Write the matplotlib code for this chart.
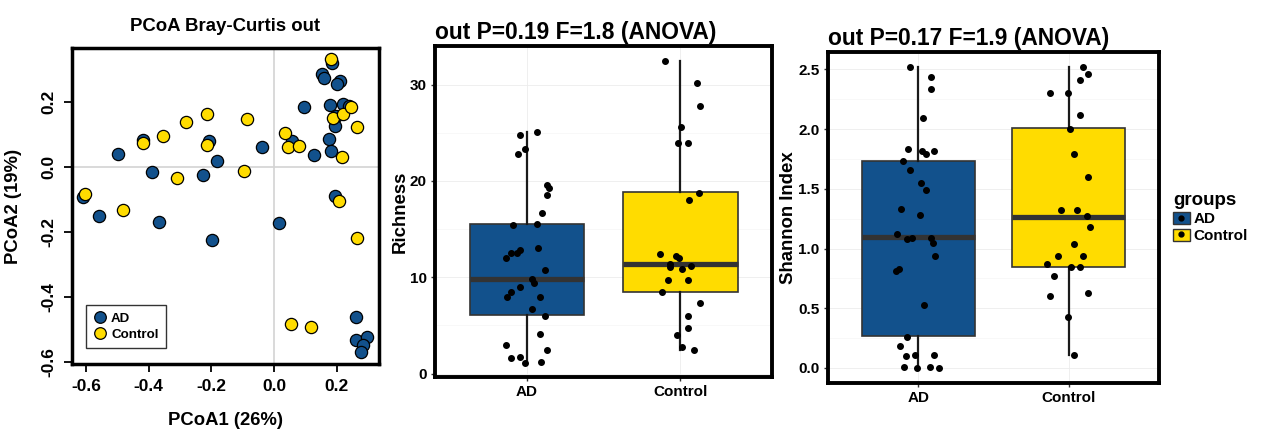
import numpy as np
import matplotlib
matplotlib.use('Agg')
import matplotlib.pyplot as plt
from matplotlib.patches import Patch
from matplotlib.lines import Line2D

plt.rcParams['font.family'] = ['Liberation Sans', 'DejaVu Sans']
plt.rcParams['font.weight'] = 'bold'

# %% data
groups = ['AD', 'Control']
col_ad = '#12518c'
col_ctrl = '#ffdc00'

# PCoA coordinates
ad_pc1 = [-0.609, -0.559, -0.497, -0.417, -0.389, -0.368, -0.226, -0.208, -0.197, -0.181,
          -0.038, 0.017, 0.058, 0.094, 0.126, 0.152, 0.158, 0.185, 0.209, 0.200,
          0.177, 0.221, 0.197, 0.195, 0.175, 0.181, 0.193, 0.262, 0.262, 0.296,
          0.285, 0.278, 0.240]
ad_pc2 = [-0.092, -0.152, 0.038, 0.082, -0.017, -0.169, -0.025, 0.079, -0.226, 0.018,
          0.061, -0.172, 0.079, 0.184, 0.036, 0.284, 0.272, 0.318, 0.262, 0.254,
          0.189, 0.192, 0.156, 0.125, 0.086, 0.048, -0.089, -0.463, -0.533, -0.525,
          -0.549, -0.569, 0.186]
ctrl_pc1 = [-0.604, -0.481, -0.417, -0.355, -0.311, -0.281, -0.215, -0.215, -0.096, -0.085,
            0.034, 0.043, 0.080, 0.183, 0.187, 0.219, 0.245, 0.265, 0.216, 0.208,
            0.266, 0.053, 0.118]
ctrl_pc2 = [-0.084, -0.133, 0.074, 0.093, -0.036, 0.137, 0.163, 0.066, -0.013, 0.146,
            0.105, 0.060, 0.065, 0.331, 0.151, 0.163, 0.184, 0.122, 0.030, -0.106,
            -0.218, -0.485, -0.492]

# richness
ad_rich = [24.8, 25.1, 22.8, 23.3, 19.6, 19.3, 18.5, 16.7, 15.4, 15.5, 13.0, 12.5, 12.5,
           12.8, 12.0, 10.8, 9.8, 9.4, 9.0, 8.5, 8.0, 8.0, 6.7, 6.0, 4.1, 3.0, 2.5,
           1.65, 1.7, 1.1, 1.2]
ad_rich_jit = [-0.048, 0.065, -0.061, -0.015, 0.130, 0.143, 0.134, 0.100, -0.093, 0.067,
               0.069, -0.104, -0.065, -0.043, -0.139, 0.119, 0.032, 0.048, -0.048, -0.102,
               -0.132, 0.084, 0.032, 0.117, 0.084, -0.136, 0.134, -0.102, -0.048, -0.013, 0.095]
ctrl_rich = [32.4, 30.2, 27.8, 25.6, 23.9, 23.9, 18.8, 18.0, 12.4, 12.2, 12.0, 11.4, 11.1,
             11.2, 10.9, 9.7, 9.7, 8.5, 7.3, 6.0, 4.7, 4.0, 2.8, 2.5]
ctrl_rich_jit = [-0.097, 0.113, 0.132, 0.004, -0.013, 0.054, 0.123, 0.056, -0.134, -0.024,
                 -0.009, -0.065, -0.069, 0.069, 0.011, -0.076, 0.050, -0.117, 0.128, 0.050,
                 0.050, -0.017, 0.015, 0.089]
# box stats (whislo, q1, med, q3, whishi)
rich_stats = [(1.1, 6.05, 9.8, 15.55, 25.1), (2.5, 8.5, 11.4, 18.85, 32.4)]

# shannon
ad_shan = [2.52, 2.44, 2.34, 2.09, 1.83, 1.82, 1.79, 1.82, 1.73, 1.66, 1.55, 1.49, 1.33,
           1.28, 1.12, 1.08, 1.09, 1.09, 1.05, 0.94, 0.83, 0.81, 0.53, 0.26, 0.18, 0.10,
           0.11, 0.11, 0.01, 0.0, 0.01, 0.0]
ad_shan_jit = [-0.053, 0.088, 0.084, 0.029, -0.068, 0.026, 0.053, 0.105, -0.101, -0.055,
               0.018, 0.053, -0.112, 0.009, -0.138, -0.077, -0.042, 0.088, 0.101, 0.110,
               -0.125, -0.145, 0.040, -0.073, -0.119, -0.081, -0.022, 0.103, -0.092, -0.011,
               0.077, 0.141]
ctrl_shan = [2.52, 2.46, 2.41, 2.30, 2.30, 2.12, 2.00, 1.79, 1.60, 1.32, 1.32, 1.27, 1.18,
             1.04, 0.94, 0.94, 0.87, 0.845, 0.845, 0.77, 0.63, 0.60, 0.43, 0.11]
ctrl_shan_jit = [0.095, 0.125, 0.075, -0.123, -0.004, 0.077, 0.011, 0.037, 0.125, -0.048,
                 0.053, 0.121, 0.143, 0.033, -0.070, 0.095, -0.141, 0.015, 0.075, -0.101,
                 0.130, -0.123, -0.007, 0.035]
shan_stats = [(0.0, 0.264, 1.093, 1.73, 2.52), (0.11, 0.845, 1.268, 2.01, 2.52)]

# %% figure
fig = plt.figure(figsize=(12.61, 4.36), dpi=100)

# --- PCoA panel
ax1 = fig.add_axes([0.0571, 0.1651, 0.2435, 0.7248])
ax1.axhline(0, color='#d3d3d3', lw=1.2, zorder=0)
ax1.axvline(0, color='#d3d3d3', lw=1.2, zorder=0)
ax1.plot(ad_pc1, ad_pc2, 'o', ms=8.8, mfc=col_ad, mec='black', mew=0.9, ls='', label='AD')
ax1.plot(ctrl_pc1, ctrl_pc2, 'o', ms=8.8, mfc=col_ctrl, mec='black', mew=0.9, ls='', label='Control')
ax1.set_xlim(-0.645, 0.335)
ax1.set_ylim(-0.607, 0.365)
ax1.set_xticks([-0.6, -0.4, -0.2, 0.0, 0.2])
ax1.set_xticklabels(['-0.6', '-0.4', '-0.2', '0.0', '0.2'])
ax1.set_yticks([-0.6, -0.4, -0.2, 0.0, 0.2])
ax1.set_yticklabels(['-0.6', '-0.4', '-0.2', '0.0', '0.2'], rotation=90, va='center')
ax1.tick_params(labelsize=12.5, length=6, width=1.3, pad=5)
for s in ax1.spines.values():
    s.set_linewidth(2.5)
ax1.set_xlabel('PCoA1 (26%)', fontsize=13.3, fontweight='bold', labelpad=13)
ax1.set_ylabel('PCoA2 (19%)', fontsize=13.3, fontweight='bold', labelpad=14)
ax1.set_title('PCoA Bray-Curtis out', fontsize=13.4, fontweight='bold', pad=12)
leg1 = ax1.legend(loc='lower left', bbox_to_anchor=(0.025, 0.03), fontsize=9.6, frameon=True,
                  fancybox=False, edgecolor='black', handletextpad=0.3, borderpad=0.55,
                  handlelength=1.0, labelspacing=0.25, markerscale=0.95)
leg1.get_frame().set_linewidth(1.0)


def box_panel(ax, stats, ad_vals, ad_jit, ctrl_vals, ctrl_jit, ylim, yticks, ytl, ylabel, title):
    bx = []
    for (lo, q1, med, q3, hi) in stats:
        bx.append(dict(whislo=lo, q1=q1, med=med, q3=q3, whishi=hi, fliers=[]))
    bp = ax.bxp(bx, positions=[1, 2], widths=0.75, patch_artist=True, showcaps=False,
                boxprops=dict(edgecolor='#333333', linewidth=1.2),
                whiskerprops=dict(color='#1a1a1a', linewidth=1.6),
                medianprops=dict(color='#333333', linewidth=3.8), zorder=2)
    for patch, c in zip(bp['boxes'], [col_ad, col_ctrl]):
        patch.set_facecolor(c)
    ax.plot(1 + np.array(ad_jit), ad_vals, 'o', color='black', ms=4, ls='', zorder=4)
    ax.plot(2 + np.array(ctrl_jit), ctrl_vals, 'o', color='black', ms=4, ls='', zorder=4)
    ax.set_xlim(0.4, 2.6)
    ax.set_ylim(*ylim)
    ax.set_xticks([1, 2])
    ax.set_xticklabels(groups)
    ax.set_yticks(yticks)
    ax.set_yticklabels(ytl)
    minor = [(a + b) / 2 for a, b in zip(yticks[:-1], yticks[1:])]
    ax.set_yticks(minor, minor=True)
    ax.tick_params(which='minor', length=0)
    ax.grid(True, which='major', color='#ececec', lw=0.6, zorder=0)
    ax.grid(True, which='minor', axis='y', color='#f6f6f6', lw=0.5, zorder=0)
    ax.set_axisbelow(True)
    ax.tick_params(which='major', labelsize=11, length=3, width=1, color='#333333', pad=3)
    for s in ax.spines.values():
        s.set_linewidth(2.8)
    ax.set_ylabel(ylabel, fontsize=13.4, fontweight='bold', labelpad=1)
    ax.set_title(title, fontsize=16.4, fontweight='bold', loc='left', pad=5)


ax2 = fig.add_axes([0.345, 0.1353, 0.2672, 0.759])
box_panel(ax2, rich_stats, ad_rich, ad_rich_jit, ctrl_rich, ctrl_rich_jit,
          (-0.35, 34.0), [0, 10, 20, 30], ['0', '10', '20', '30'], 'Richness',
          'out P=0.19 F=1.8 (ANOVA)')

ax3 = fig.add_axes([0.6566, 0.1216, 0.2625, 0.759])
box_panel(ax3, shan_stats, ad_shan, ad_shan_jit, ctrl_shan, ctrl_shan_jit,
          (-0.126, 2.646), [0, 0.5, 1.0, 1.5, 2.0, 2.5], ['0.0', '0.5', '1.0', '1.5', '2.0', '2.5'],
          'Shannon Index', 'out P=0.17 F=1.9 (ANOVA)')

# groups legend
handles = [(Patch(facecolor=c, edgecolor='#333333', lw=1),
            Line2D([], [], marker='o', color='black', ms=3.5, ls=''))
           for c in [col_ad, col_ctrl]]
leg = fig.legend(handles, groups, loc='upper left', bbox_to_anchor=(0.929, 0.562),
                 title='groups', frameon=False, fontsize=11, title_fontsize=13.5,
                 handlelength=1.1, handleheight=0.9, handletextpad=0.25, labelspacing=0.15,
                 borderpad=0.1, borderaxespad=0)
leg._legend_box.align = 'left'
leg.get_title().set_fontweight('bold')

fig.savefig('out.png', dpi=100)
